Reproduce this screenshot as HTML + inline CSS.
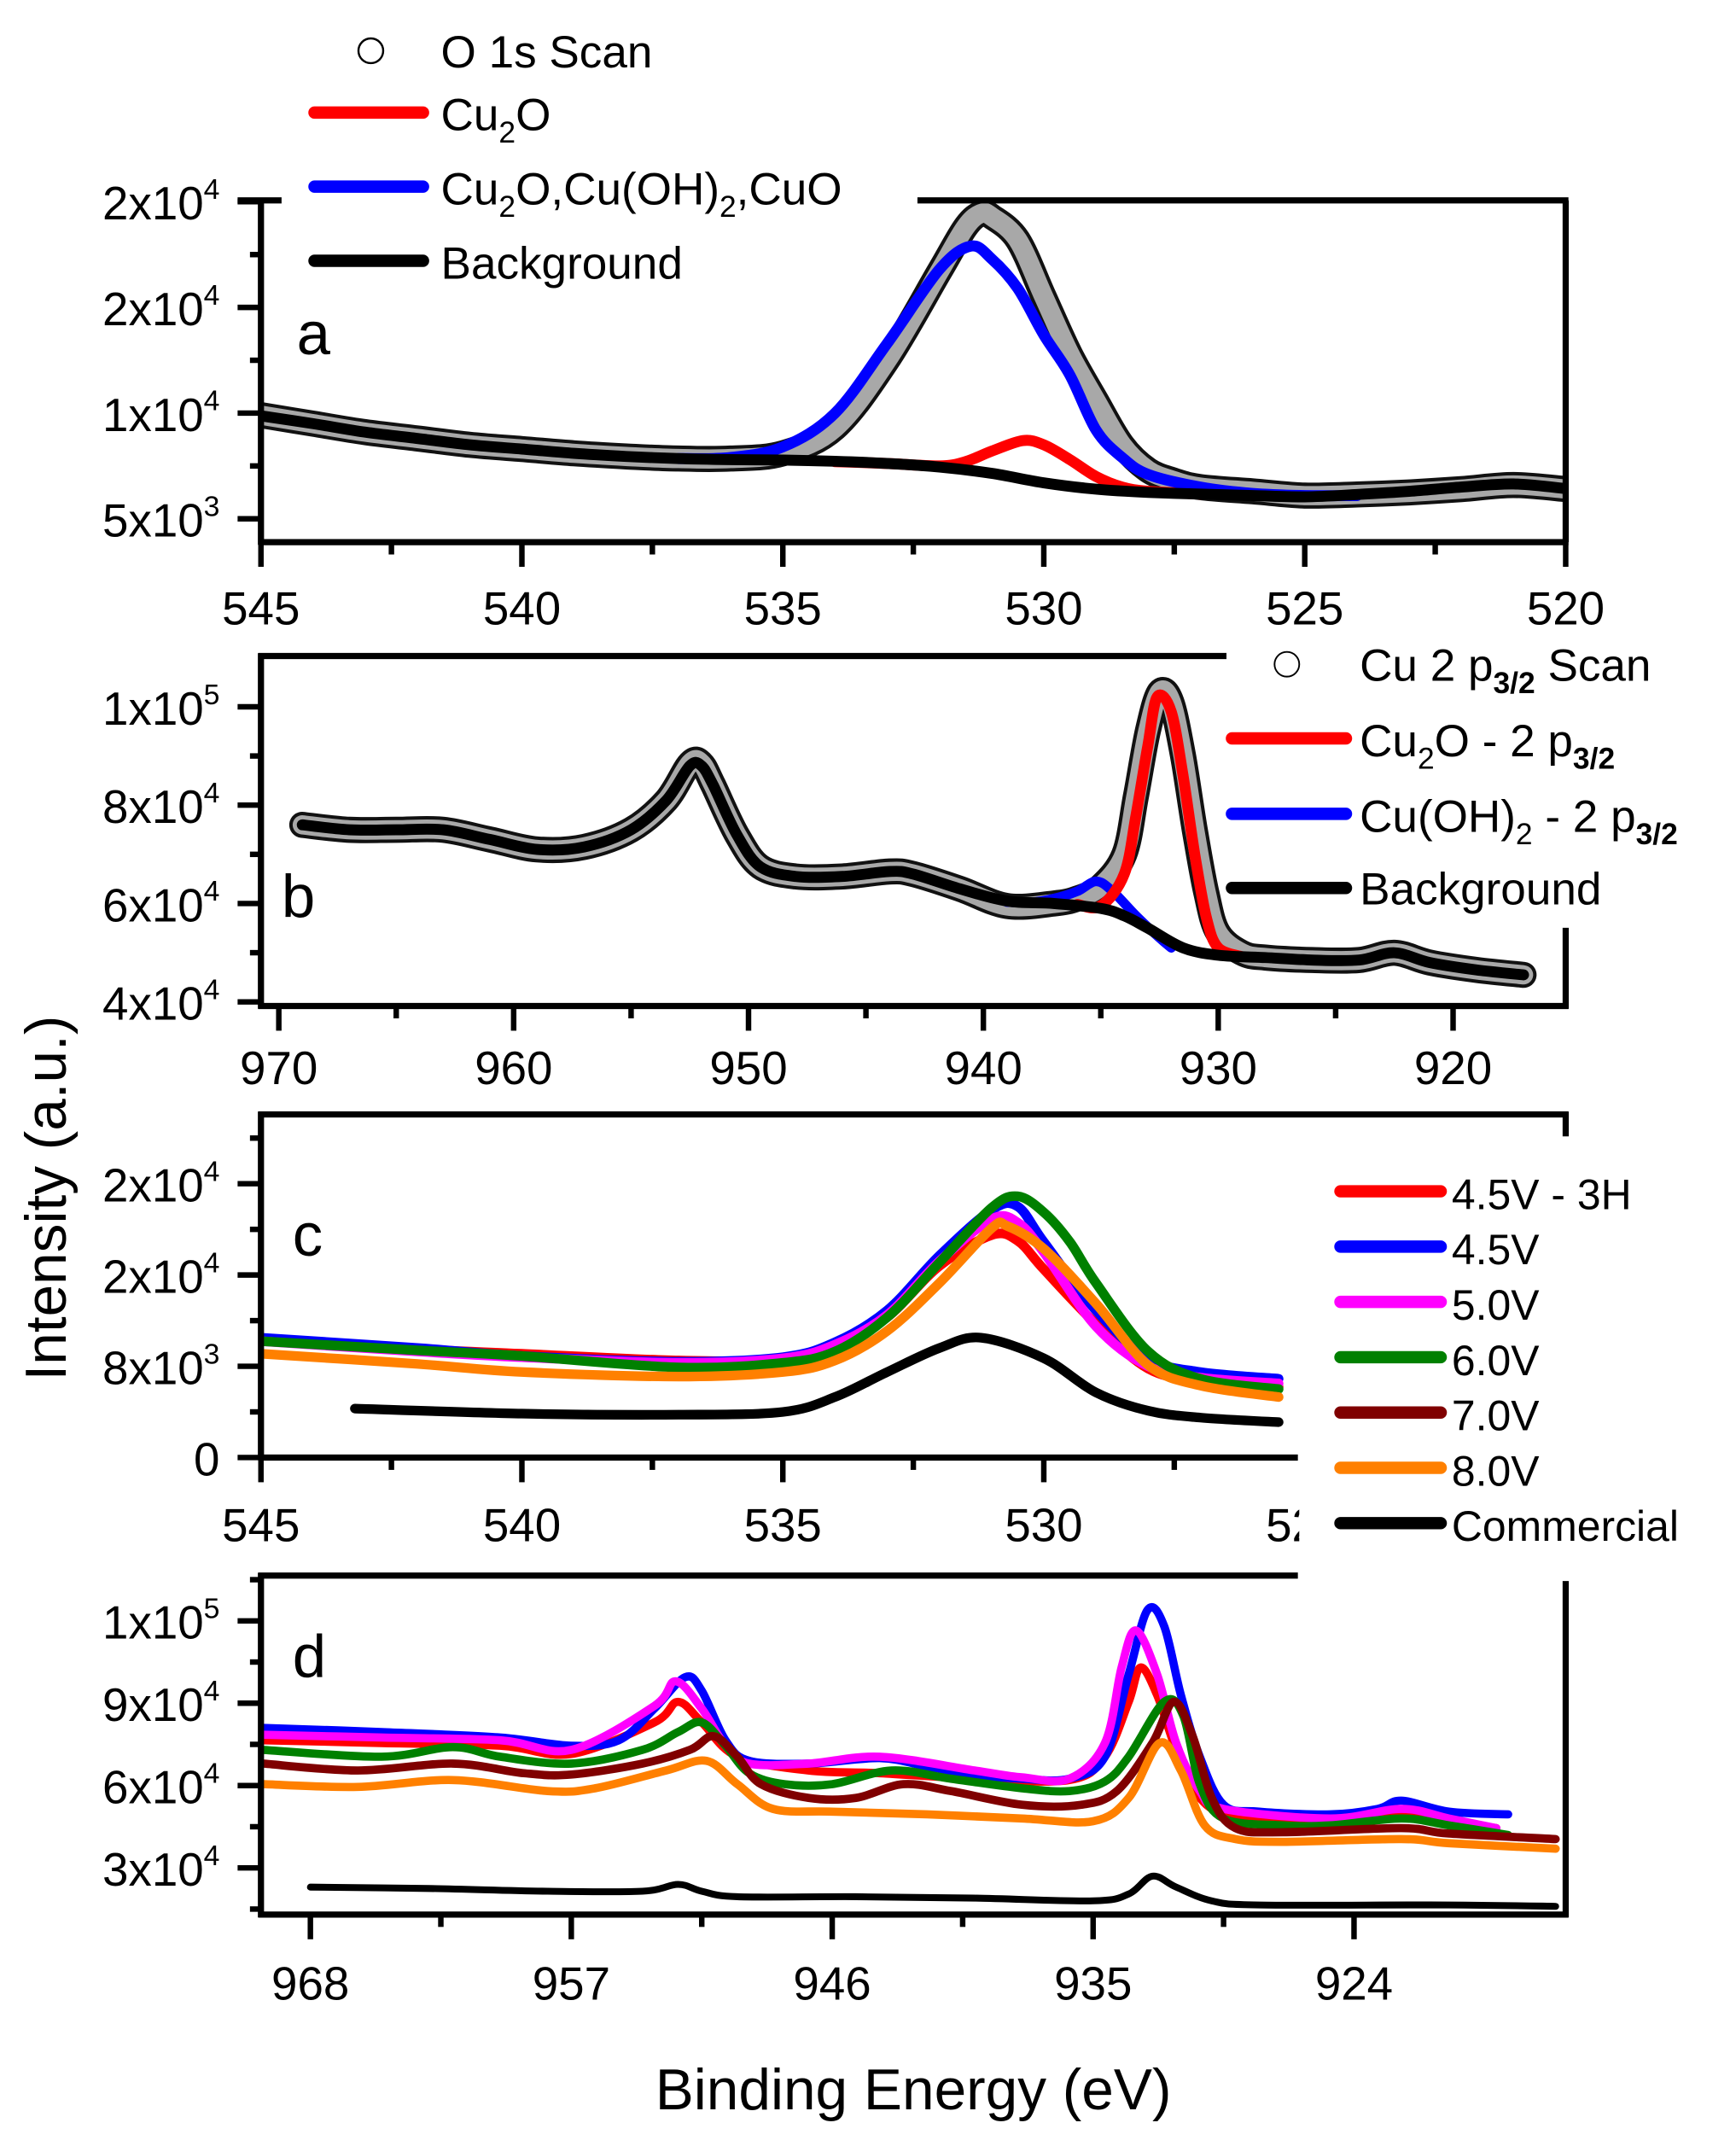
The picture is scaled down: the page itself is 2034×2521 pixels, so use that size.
<!DOCTYPE html>
<html><head><meta charset="utf-8">
<style>
html,body{margin:0;padding:0;background:#fff;}
svg{display:block;}
text{font-family:"Liberation Sans",sans-serif;fill:#000;}
.nar{font-family:"Liberation Sans Narrow","Liberation Sans",sans-serif;}
</style></head>
<body>
<svg id="chart" xmlns="http://www.w3.org/2000/svg" width="2034" height="2521" viewBox="0 0 1264 1568" preserveAspectRatio="none">
<defs>
<clipPath id="clipA"><rect x="190" y="146" width="950" height="249"/></clipPath>
<clipPath id="clipB"><rect x="190" y="478" width="950" height="255"/></clipPath>
<clipPath id="clipC"><rect x="190" y="812" width="755" height="250"/></clipPath>
<clipPath id="clipD"><rect x="190" y="1148" width="950" height="247"/></clipPath>
</defs>
<g id="layer"></g>
</svg>
<script>
// ---------- Panel a data (O 1s) ----------
const aScanE=[545,544,543,542,541,540,539,538,537,536,535,534,533,532,531.5,531.2,531,530.5,530,529.5,529,528.5,528,527.5,527,526,525,524,523,522,521,520];
const aScanV=[9900,9500,9100,8800,8500,8300,8100,7950,7850,7850,8100,9300,12500,16700,18800,19450,19300,18200,15500,12800,10600,8500,7300,6800,6500,6300,6100,6150,6250,6400,6600,6400];
const aBgE=[545,544,543,542,541,540,539,538,537,536,535,534,533,532,531,530,529,528,527,526,525,524,523,522,521,520];
const aBgV=[9870,9500,9100,8800,8500,8300,8100,7950,7850,7800,7780,7720,7620,7450,7150,6700,6400,6250,6170,6100,6040,6150,6300,6500,6650,6430];
const aBlueE=[537,536,535,534,533,532,531.4,531,530.5,530,529.5,529,528.5,528,527,526,525,524];
const aBlueV=[7850,7900,8400,10000,13300,16800,17900,17300,15900,13700,11800,9200,7900,7100,6500,6200,6100,6100];
const aRedE=[534,533,532,531.5,531,530.4,530,529.5,529,528.5,528,527];
const aRedV=[7700,7620,7500,7700,8200,8700,8500,7800,7000,6500,6300,6170];
const aTicksX=[545,540,535,530,525,520];
const aTicksY=[5000,10000,15000,20000];
const aTickLabY=[["5x10","3"],["1x10","4"],["2x10","4"],["2x10","4"]];
// ---------- Panel b data (Cu 2p) ----------
const bBgE=[969,967,965,963,961,959,957,955,953.5,952.5,952,951.5,950.5,949.5,948,946,944,943,941,939,937,935,934,933,931.5,930,928,926,924,922.5,921,919,917];
const bBgV=[76000,75000,75000,75000,73000,71000,71500,75000,81000,88000,88000,84000,74000,67500,65500,65500,66500,66000,63000,60500,60000,59000,57500,55000,51000,49500,49000,48500,48500,50000,48000,46500,45500];
const bScanE=[969,967,965,963,961,959,957,955,953.5,952.5,952,951.5,950.5,949.5,948,946,944,943,941,939,937,936,935,934,933.5,933,932.5,932,931.5,931,930.5,930,929,928,926,924,922.5,921,919,917];
const bScanV=[76000,75000,75000,75000,73000,71000,71500,75000,81000,88500,88500,84000,74000,67500,65500,65500,66500,66000,63000,59500,60000,61000,63500,70000,82000,95000,103000,101000,90000,75000,62000,54000,50000,49000,48500,48500,50000,48000,46500,45500];
const bRedE=[936,935,934,933.5,933,932.6,932,931.5,931,930.5,930,929];
const bRedV=[59800,59500,66000,78000,92000,102000,99000,86000,70000,57000,51000,49200];
const bBlueE=[939,938,937,936,935.2,934.5,933.5,932.5,932];
const bBlueV=[60300,60200,61000,62500,64500,62500,57500,53000,51000];
const bTicksX=[970,960,950,940,930,920];
const bTicksY=[40000,60000,80000,100000];
const bTickLabY=[["4x10","4"],["6x10","4"],["8x10","4"],["1x10","5"]];
// ---------- Panel c data (O 1s, samples) ----------
const cE15=[545,542,540,537,535,534,533,532,531,530.5,530,529,528,527,525.5];
const cRedV=[10300,9500,9100,8500,8600,9700,12300,16800,19500,19000,16500,11700,7800,6700,6200];
const cBlueV=[10500,9600,8900,8400,8800,10100,12900,17700,21700,22000,18900,12900,8700,7500,6900];
const cPinkV=[10200,9300,8800,8300,8700,9900,12500,17200,20900,20600,18000,11500,8000,7000,6500];
const cGreenE=[545,542,540,537,535,534,533,532,531,530.5,530,529.5,529,528,527,525.5];
const cGreenV=[10200,9400,8900,7900,8300,9300,12300,17100,21900,22900,21500,18900,15300,9300,6900,6000];
const cOrangeE=[545,542,540,537,535,534,533,532,531,530.7,530,529,528,527,525.5];
const cOrangeV=[9100,8200,7500,7100,7500,8500,11100,15300,20100,20300,18300,13500,8100,6300,5300];
const cBlackE=[543.2,540,537,535,534,533,532,531.2,530,529,528,527,525.5];
const cBlackV=[4300,3850,3750,4000,5300,7500,9600,10500,8700,5700,4100,3500,3100];
const cTicksX=[545,540,535,530,525];
const cTicksY=[0,8000,16000,24000];
const cTickLabY=[["0",""],["8x10","3"],["2x10","4"],["2x10","4"]];
// ---------- Panel d data (Cu 2p, samples) ----------
const dBlueE=[970,965,960,957,955,953.5,952.2,951.5,950.5,949.5,947,944,942,940,938,936,934.5,933.5,932.7,932,931.3,930.5,929.5,928,925,923,922,920,917.5];
const dBlueV=[81000,79500,77500,74500,76500,88000,99500,94500,76500,69000,68000,70000,67000,64000,62500,62500,70500,100500,124000,118000,93000,70500,53000,50500,49500,51500,54500,50500,49500];
const dPinkE=[970,965,960,957,953.5,952.6,951.5,950.5,949.5,947,944,940,938,936,934.5,933.8,933.2,932.3,931.5,930.5,929.5,925,922,920,918];
const dPinkV=[78500,77500,76500,73000,89000,98000,88000,74500,68000,68000,70500,65500,63000,62500,75500,103000,116500,100500,75500,58000,51500,48000,51500,48000,44500];
const dRedE=[970,965,960,957,953.5,952.5,951.5,950,947,944,940,936,934.5,933.5,933,932.3,931.5,930.5,929,925,922,920,918];
const dRedV=[76500,75500,74500,71500,83000,90500,83000,70500,65500,64500,62500,62000,70500,90500,103000,93000,73000,55500,49000,47000,49500,46500,44500];
const dGreenE=[970,965,962,960,957,954,952.5,951.5,950.5,949.5,948,946,943.5,941,938,936,934.5,933.5,932,931.2,930.5,929.5,927,925,922,920,917.5];
const dGreenV=[73000,70500,74000,70500,68000,73000,79500,83000,74500,64500,60500,60500,65500,62500,59000,58000,61500,70500,90500,85500,60500,48000,45500,45500,48000,45500,42000];
const dBrownE=[970,966,962,959,957,954,952,951,950,949,947,945,943,941,938,935.5,934,932.5,931.6,930.8,930,929,927,922,920,915.5];
const dBrownV=[68000,65500,68000,64500,64000,68000,73000,78000,70500,60500,55500,55500,60500,58000,53000,53000,58000,75500,90500,78000,55500,44500,43000,44500,42500,40500];
const dOrangeE=[970,966,962,958,956,953,951.3,950,948.5,946,942,938,935,933.5,932.2,931.3,930.3,929,927,922,920,915.5];
const dOrangeV=[60500,59500,62000,58000,59000,65500,69000,60500,51500,50500,49500,48000,47000,55500,75500,65500,45500,40500,39500,40500,39000,37000];
const dBlackE=[968,963,958,954,952.5,951.5,950,945,940,935,933.5,932.5,931.5,930,928,920,915.5];
const dBlackV=[23000,22500,21500,21500,24000,21500,19500,19500,19000,18000,20500,27000,23000,18000,16500,16500,16000];
const dTicksX=[968,957,946,935,924];
const dTicksY=[30000,60000,90000,120000];
const dTickLabY=[["3x10","4"],["6x10","4"],["9x10","4"],["1x10","5"]];

// ---------- axis functions ----------
const axA={x:E=>190+(545-E)*38, y:v=>378-(v-5000)/5000*77};
const axB={x:E=>203+(970-E)*17.1, y:v=>730-(v-40000)/20000*71.67};
const axC={x:E=>190+(545-E)*38, y:v=>1062-v/8000*66.5};
const axD={x:E=>226+(968-E)*17.27, y:v=>1361-(v-30000)/30000*60};

const NS="http://www.w3.org/2000/svg";
const layer=document.getElementById('layer');
function mk(tag,attrs,parent){const e=document.createElementNS(NS,tag);for(const k in attrs)e.setAttribute(k,attrs[k]);(parent||layer).appendChild(e);return e;}
function pathD(ax,Es,Vs){
  const p=Es.map((E,i)=>[ax.x(E),ax.y(Vs[i])]);
  let d="M"+p[0][0].toFixed(1)+","+p[0][1].toFixed(1);
  for(let i=0;i<p.length-1;i++){
    const p0=p[Math.max(0,i-1)],p1=p[i],p2=p[i+1],p3=p[Math.min(p.length-1,i+2)];
    const c1=[p1[0]+(p2[0]-p0[0])/6,p1[1]+(p2[1]-p0[1])/6];
    const c2=[p2[0]-(p3[0]-p1[0])/6,p2[1]-(p3[1]-p1[1])/6];
    d+=" C"+c1[0].toFixed(1)+","+c1[1].toFixed(1)+" "+c2[0].toFixed(1)+","+c2[1].toFixed(1)+" "+p2[0].toFixed(1)+","+p2[1].toFixed(1);
  }
  return d;
}
function line(g,ax,Es,Vs,color,w,name){
  const el=mk('path',{d:pathD(ax,Es,Vs),fill:'none',stroke:color,'stroke-width':w,'stroke-linejoin':'round','stroke-linecap':'round'},g);
  
  
  return el;
}
function scan(g,ax,Es,Vs,name){
  const grp=mk('g',{},g);
  
  
  const d=pathD(ax,Es,Vs);
  mk('path',{d:d,fill:'none',stroke:'#111','stroke-width':19,'stroke-linecap':'round','stroke-linejoin':'round'},grp);
  mk('path',{d:d,fill:'none',stroke:'#a8a8a8','stroke-width':14,'stroke-linecap':'round','stroke-linejoin':'round'},grp);
}
function txt(x,y,s,size,anchor,name,cls){
  const t=mk('text',{x:x,y:y,'font-size':size,'text-anchor':anchor||'start'});
  if(cls)t.setAttribute('class',cls);
  t.textContent=s;
  
  
  return t;
}
function ylab(x,y,pair,name){
  const t=mk('text',{x:x,y:y,'font-size':34,'text-anchor':'end'});
  
  
  const a=mk('tspan',{},t);a.textContent=pair[0];
  if(pair[1]){const b=mk('tspan',{dy:-15,'font-size':21},t);b.textContent=pair[1];}
}
function frame(p){
  const g=mk('g',{stroke:'#000','stroke-width':4.5,fill:'none'});
  
  
  mk('line',{x1:p.l,y1:p.t-2,x2:p.l,y2:p.b+2},g);
  mk('line',{x1:p.l-2,y1:p.b,x2:p.bottomTo,y2:p.b},g);
  p.top.forEach(s=>mk('line',{x1:s[0],y1:p.t,x2:s[1],y2:p.t},g));
  if(p.right)mk('line',{x1:p.r,y1:p.right[0],x2:p.r,y2:p.right[1]},g);
}
function xticks(ax,ticks,minorStep,yb,xmax,labY,name,xmin){
  const g=mk('g',{stroke:'#000','stroke-width':4});
  
  
  ticks.forEach(E=>{const x=ax.x(E);mk('line',{x1:x,y1:yb,x2:x,y2:yb+18},g);});
  for(let i=0;i<ticks.length;i++){
    const E=ticks[i]-minorStep;const x=ax.x(E);
    if(x<xmax&&x>xmin)mk('line',{x1:x,y1:yb,x2:x,y2:yb+9},g);
  }
  ticks.forEach((E,i)=>txt(ax.x(E),labY,String(E),34,'middle',name+'-x-label-'+E));
}
function yticks(ax,ticks,labs,xl,ytop,ybot,name){
  const g=mk('g',{stroke:'#000','stroke-width':4});
  
  
  ticks.forEach(v=>{const y=ax.y(v);mk('line',{x1:xl-17,y1:y,x2:xl,y2:y},g);});
  const step=(ticks[1]-ticks[0])/2;
  for(let v=ticks[0]-step*4;v<=ticks[ticks.length-1]+step*4;v+=step){
    const y=ax.y(v);
    if(y>ytop+2&&y<ybot-2&&!ticks.includes(v))mk('line',{x1:xl-8,y1:y,x2:xl,y2:y},g);
  }
  ticks.forEach((v,i)=>ylab(160,ax.y(v)+13,labs[i],name+'-y-label-'+i));
}
function rich(x,y,html,name,size){
  const t=mk('text',{x:x,y:y,'font-size':size||33});
  
  
  t.innerHTML=html;
  return t;
}

// ================= Panel a =================
{
  const g=mk('g',{'clip-path':'url(#clipA)'});
  
  
  scan(g,axA,aScanE,aScanV,'a-o1s-scan');
  line(g,axA,aRedE,aRedV,'#ff0000',8,'a-cu2o-fit');
  line(g,axA,aBlueE,aBlueV,'#0000ff',8,'a-mixed-fit');
  line(g,axA,aBgE,aBgV,'#000',8,'a-background');
  frame({name:'panel-a',l:190,r:1140,t:146,b:395,top:[[173,205],[668,1142]],right:[146,395],bottomTo:1142});
  xticks(axA,aTicksX,2.5,395,1139,455,'panel-a',191);
  yticks(axA,aTicksY,aTickLabY,190,146,395,'panel-a');
  txt(216,258,'a',44,'start','panel-a-letter');
}
// legend a
{
  const c=mk('circle',{cx:270,cy:37,r:9,fill:'#fff',stroke:'#000','stroke-width':1.5});
  
  txt(321,49,'O 1s Scan',33,'start','legend-a-scan');
  const cols=['#ff0000','#0000ff','#000'];const ys=[82,136,190];
  cols.forEach((col,i)=>{const l=mk('line',{x1:229,y1:ys[i],x2:308,y2:ys[i],stroke:col,'stroke-width':9,'stroke-linecap':'round'});
    });
  rich(321,95,'Cu<tspan dy="9" font-size="22">2</tspan><tspan dy="-9">O</tspan>','legend-a-cu2o');
  rich(321,149,'Cu<tspan dy="9" font-size="22">2</tspan><tspan dy="-9">O,Cu(OH)</tspan><tspan dy="9" font-size="22">2</tspan><tspan dy="-9">,CuO</tspan>','legend-a-mixed');
  txt(321,203,'Background',33,'start','legend-a-background');
}
// ================= Panel b =================
{
  const g=mk('g',{'clip-path':'url(#clipB)'});
  
  
  scan(g,axB,bScanE,bScanV,'b-cu2p-scan');
  line(g,axB,bBlueE,bBlueV,'#0000ff',7,'b-cuoh2-fit');
  line(g,axB,bRedE,bRedV,'#ff0000',8,'b-cu2o-fit');
  line(g,axB,bBgE,bBgV,'#000',8,'b-background');
  frame({name:'panel-b',l:190,r:1140,t:478,b:733,top:[[188,893]],right:[676,735],bottomTo:1142});
  xticks(axB,bTicksX,5,733,1139,790,'panel-b',191);
  yticks(axB,bTicksY,bTickLabY,190,478,733,'panel-b');
  txt(205,668,'b',44,'start','panel-b-letter');
}
{
  const c=mk('circle',{cx:937,cy:484,r:9,fill:'#fff',stroke:'#000','stroke-width':1.2});
  
  rich(990,496,'Cu 2 p<tspan dy="9" font-size="22" font-weight="bold">3/2</tspan><tspan dy="-9"> Scan</tspan>','legend-b-scan');
  const cols=['#ff0000','#0000ff','#000'];const ys=[538,593,647];
  cols.forEach((col,i)=>{const l=mk('line',{x1:897,y1:ys[i],x2:980,y2:ys[i],stroke:col,'stroke-width':9,'stroke-linecap':'round'});
    });
  rich(990,551,'Cu<tspan dy="9" font-size="22">2</tspan><tspan dy="-9">O - 2 p</tspan><tspan dy="9" font-size="22" font-weight="bold">3/2</tspan>','legend-b-cu2o');
  rich(990,606,'Cu(OH)<tspan dy="9" font-size="22">2</tspan><tspan dy="-9"> - 2 p</tspan><tspan dy="9" font-size="22" font-weight="bold">3/2</tspan>','legend-b-cuoh2');
  txt(990,659,'Background',33,'start','legend-b-background');
}
// ================= Panel c =================
{
  const g=mk('g',{'clip-path':'url(#clipC)'});
  
  
  line(g,axC,cE15,cRedV,'#ff0000',7,'c-4.5v-3h');
  line(g,axC,cE15,cBlueV,'#0000ff',7,'c-4.5v');
  line(g,axC,cE15,cPinkV,'#ff00ff',7,'c-5.0v');
  line(g,axC,cGreenE,cGreenV,'#008000',7,'c-6.0v');
  line(g,axC,cOrangeE,cOrangeV,'#ff8000',7,'c-8.0v');
  line(g,axC,cBlackE,cBlackV,'#000',7,'c-commercial');
  frame({name:'panel-c',l:190,r:1140,t:812,b:1062,top:[[188,1142]],right:[810,828],bottomTo:945});
  xticks(axC,cTicksX,2.5,1062,944,1123,'panel-c',191);
  yticks(axC,cTicksY,cTickLabY,190,812,1062,'panel-c');
  txt(213,915,'c',44,'start','panel-c-letter');
}
// ================= Panel d =================
{
  const g=mk('g',{'clip-path':'url(#clipD)'});
  
  
  line(g,axD,dRedE,dRedV,'#ff0000',6,'d-4.5v-3h');
  line(g,axD,dBlueE,dBlueV,'#0000ff',6,'d-4.5v');
  line(g,axD,dPinkE,dPinkV,'#ff00ff',6,'d-5.0v');
  line(g,axD,dGreenE,dGreenV,'#008000',6,'d-6.0v');
  line(g,axD,dBrownE,dBrownV,'#800000',6,'d-7.0v');
  line(g,axD,dOrangeE,dOrangeV,'#ff8000',6,'d-8.0v');
  line(g,axD,dBlackE,dBlackV,'#000',5,'d-commercial');
  frame({name:'panel-d',l:190,r:1140,t:1148,b:1395,top:[[188,945]],right:[1152,1397],bottomTo:1142});
  xticks(axD,dTicksX,-5.5,1395,1139,1457,'panel-d',191);
  yticks(axD,dTicksY,dTickLabY,190,1148,1395,'panel-d');
  txt(213,1222,'d',44,'start','panel-d-letter');
}
// legend c/d (white box covering)
{
  const r=mk('rect',{x:946,y:829,width:318,height:315,fill:'#fff'});
  
  const names=['4.5V - 3H','4.5V','5.0V','6.0V','7.0V','8.0V','Commercial'];
  const cols=['#ff0000','#0000ff','#ff00ff','#008000','#800000','#ff8000','#000'];
  names.forEach((n,i)=>{
    const y=868+i*40.3;
    const l=mk('line',{x1:976,y1:y,x2:1049,y2:y,stroke:cols[i],'stroke-width':9,'stroke-linecap':'round'});
    
    txt(1057,y+13,n,31,'start','legend-cd-label-'+i,'nar');
  });
}
// axis titles
txt(665,1537,'Binding Energy (eV)',42,'middle','x-axis-title');
{
  const t=mk('text',{x:0,y:0,'font-size':42,'text-anchor':'middle',transform:'translate(48,873) rotate(-90)'});
  t.textContent='Intensity (a.u.)';
  
  
}
</script>
</body></html>
